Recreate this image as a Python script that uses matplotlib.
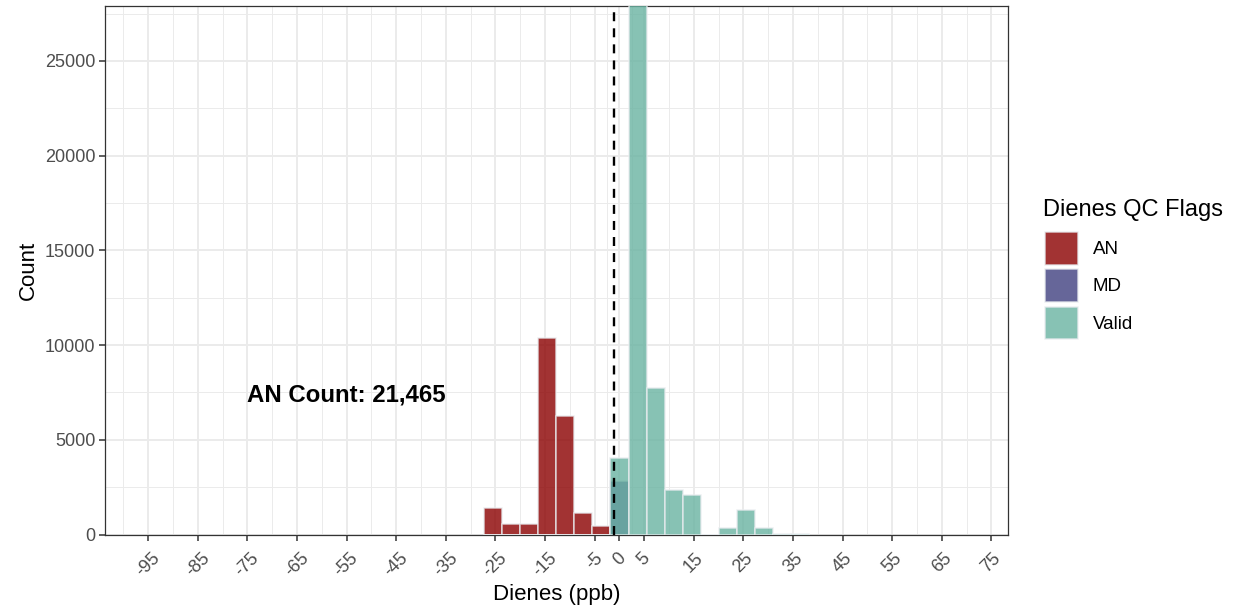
import numpy as np
import matplotlib
matplotlib.use("Agg")
import matplotlib.pyplot as plt
from matplotlib.patches import Patch

plt.rcParams['font.family'] = ['Liberation Sans', 'DejaVu Sans']

# histogram bins (centres, ppb) and counts per QC flag
bin_centers = [-25.46, -21.82, -18.18, -14.54, -10.89, -7.25, -3.61, 0.03, 3.68,
               7.32, 10.96, 14.61, 18.25, 21.89, 25.54, 29.18, 32.82, 36.46]
bin_width = 3.643
counts_an = [1380, 540, 530, 10350, 6280, 1150, 450, 0, 0,
             0, 0, 0, 0, 0, 0, 0, 0, 0]
counts_md = [0, 0, 0, 0, 0, 0, 0, 2850, 0,
             0, 0, 0, 0, 0, 0, 0, 0, 0]
counts_valid = [0, 0, 0, 0, 0, 0, 0, 4020, 31000,
                7750, 2340, 2080, 0, 330, 1280, 350, 25, 10]

flags = ["AN", "MD", "Valid"]
flag_colors = {"AN": "#8B0000", "MD": "#404080", "Valid": "#69b3a2"}

x_breaks = [-95, -85, -75, -65, -55, -45, -35, -25, -15, -5, 0, 5, 15, 25, 35, 45, 55, 65, 75]
y_breaks = [0, 5000, 10000, 15000, 20000, 25000]
threshold = -1.1
an_total = 21465

fig = plt.figure(figsize=(12.35, 6.11), dpi=100)
ax = fig.add_axes([105 / 1235, 1 - 534.5 / 611, (1007.7 - 105) / 1235, (534.5 - 6) / 611])

series = {"AN": counts_an, "MD": counts_md, "Valid": counts_valid}
for f in flags:
    ax.bar(bin_centers, series[f], width=bin_width, color=flag_colors[f], alpha=0.8,
           edgecolor="#e9ecef", linewidth=1.1, zorder=3)

ax.axvline(threshold, color="black", linestyle=(0, (3.8, 3.0)), linewidth=1.7, zorder=4)

ax.text(-55, 7350, "AN Count: " + format(an_total, ","), fontsize=17.3, fontweight="bold",
        ha="center", va="center", zorder=5)

ax.set_xlim(-103.7, 78.3)
ax.set_ylim(0, 27900)

# major / minor grid like theme_bw
xminor = [(a + b) / 2 for a, b in zip(x_breaks[:-1], x_breaks[1:])] + [-100]
yminor = [2500, 7500, 12500, 17500, 22500, 27500]
ax.set_xticks(x_breaks)
ax.set_xticklabels([str(v) for v in x_breaks], rotation=45, ha="center", va="top")
ax.set_yticks(y_breaks)
ax.set_yticklabels([str(v) for v in y_breaks])
ax.set_xticks(xminor, minor=True)
ax.set_yticks(yminor, minor=True)
ax.grid(which="major", color="#EBEBEB", linewidth=1.4, zorder=0)
ax.grid(which="minor", color="#EBEBEB", linewidth=0.7, zorder=0)
ax.set_axisbelow(True)
ax.tick_params(which="minor", length=0)
ax.tick_params(which="major", length=4, width=1.1, color="#333333",
               labelsize=13, labelcolor="#4D4D4D", pad=3)
ax.tick_params(axis="x", which="major", pad=7)
for s in ax.spines.values():
    s.set_color("#333333")
    s.set_linewidth(0.9)

ax.set_xlabel("Dienes (ppb)", fontsize=16, labelpad=3)
ax.set_ylabel("Count", fontsize=16, labelpad=4)

# legend: title as separate text so the gap to the keys can be set
fig.text(1043 / 1235, 1 - 210 / 611, "Dienes QC Flags", fontsize=17, ha="left", va="center")
handles = [Patch(facecolor=flag_colors[f], alpha=0.8, edgecolor="#e9ecef", linewidth=1.1)
           for f in flags]
leg = fig.legend(handles, flags, loc="upper left", bbox_to_anchor=(1045 / 1235, 1 - 232 / 611),
                 frameon=False, fontsize=13.5,
                 handlelength=1.75, handleheight=2.3, labelspacing=0.25, handletextpad=0.8,
                 borderpad=0, borderaxespad=0)

fig.savefig("out.png", dpi=100)
